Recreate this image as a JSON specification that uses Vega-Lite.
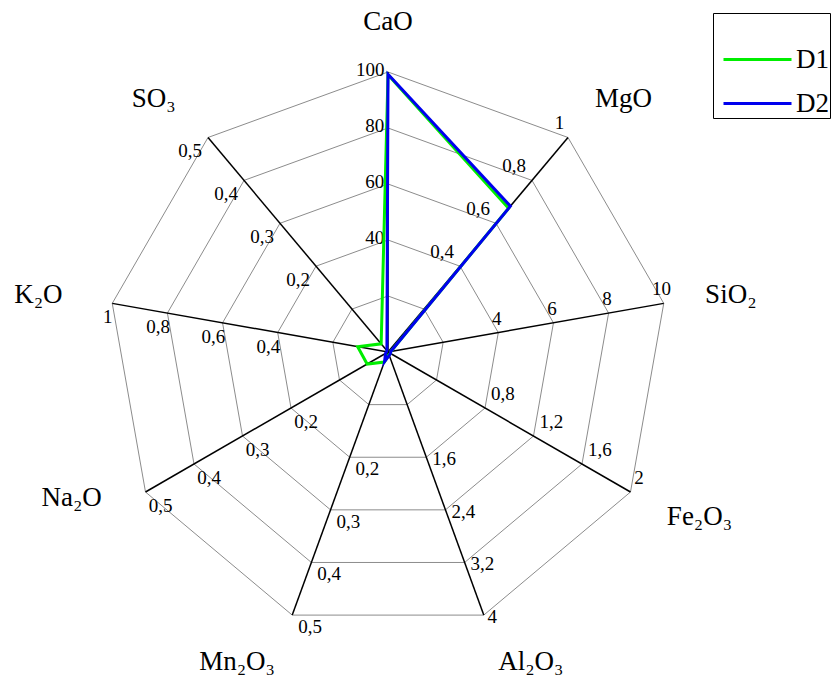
{
  "$schema": "https://vega.github.io/schema/vega-lite/v6.json",
  "width": 831,
  "height": 689,
  "padding": 0,
  "autosize": {"type": "none"},
  "background": "white",
  "config": {
    "view": {"stroke": null},
    "locale": {"number": {"decimal": ",", "thousands": ".", "grouping": [3], "currency": ["", "€"]}}
  },
  "datasets": {
    "axes": [
      {"oxide": "CaO", "idx": 0, "max": 100, "label": "CaO"},
      {"oxide": "MgO", "idx": 1, "max": 1, "label": "MgO"},
      {"oxide": "SiO2", "idx": 2, "max": 10, "label": "SiO₂"},
      {"oxide": "Fe2O3", "idx": 3, "max": 2, "label": "Fe₂O₃"},
      {"oxide": "Al2O3", "idx": 4, "max": 4, "label": "Al₂O₃"},
      {"oxide": "Mn2O3", "idx": 5, "max": 0.5, "label": "Mn₂O₃"},
      {"oxide": "Na2O", "idx": 6, "max": 0.5, "label": "Na₂O"},
      {"oxide": "K2O", "idx": 7, "max": 1, "label": "K₂O"},
      {"oxide": "SO3", "idx": 8, "max": 0.5, "label": "SO₃"}
    ],
    "ticks": [
      {"oxide": "CaO", "tick": 20}, {"oxide": "CaO", "tick": 40}, {"oxide": "CaO", "tick": 60}, {"oxide": "CaO", "tick": 80}, {"oxide": "CaO", "tick": 100},
      {"oxide": "MgO", "tick": 0.2}, {"oxide": "MgO", "tick": 0.4}, {"oxide": "MgO", "tick": 0.6}, {"oxide": "MgO", "tick": 0.8}, {"oxide": "MgO", "tick": 1},
      {"oxide": "SiO2", "tick": 2}, {"oxide": "SiO2", "tick": 4}, {"oxide": "SiO2", "tick": 6}, {"oxide": "SiO2", "tick": 8}, {"oxide": "SiO2", "tick": 10},
      {"oxide": "Fe2O3", "tick": 0.4}, {"oxide": "Fe2O3", "tick": 0.8}, {"oxide": "Fe2O3", "tick": 1.2}, {"oxide": "Fe2O3", "tick": 1.6}, {"oxide": "Fe2O3", "tick": 2},
      {"oxide": "Al2O3", "tick": 0.8}, {"oxide": "Al2O3", "tick": 1.6}, {"oxide": "Al2O3", "tick": 2.4}, {"oxide": "Al2O3", "tick": 3.2}, {"oxide": "Al2O3", "tick": 4},
      {"oxide": "Mn2O3", "tick": 0.1}, {"oxide": "Mn2O3", "tick": 0.2}, {"oxide": "Mn2O3", "tick": 0.3}, {"oxide": "Mn2O3", "tick": 0.4}, {"oxide": "Mn2O3", "tick": 0.5},
      {"oxide": "Na2O", "tick": 0.1}, {"oxide": "Na2O", "tick": 0.2}, {"oxide": "Na2O", "tick": 0.3}, {"oxide": "Na2O", "tick": 0.4}, {"oxide": "Na2O", "tick": 0.5},
      {"oxide": "K2O", "tick": 0.2}, {"oxide": "K2O", "tick": 0.4}, {"oxide": "K2O", "tick": 0.6}, {"oxide": "K2O", "tick": 0.8}, {"oxide": "K2O", "tick": 1},
      {"oxide": "SO3", "tick": 0.1}, {"oxide": "SO3", "tick": 0.2}, {"oxide": "SO3", "tick": 0.3}, {"oxide": "SO3", "tick": 0.4}, {"oxide": "SO3", "tick": 0.5}
    ],
    "values": [
      {"series": "D1", "oxide": "CaO", "value": 99},
      {"series": "D1", "oxide": "MgO", "value": 0.67},
      {"series": "D1", "oxide": "SiO2", "value": 0.1},
      {"series": "D1", "oxide": "Fe2O3", "value": 0.02},
      {"series": "D1", "oxide": "Al2O3", "value": 0.04},
      {"series": "D1", "oxide": "Mn2O3", "value": 0.019},
      {"series": "D1", "oxide": "Na2O", "value": 0.043},
      {"series": "D1", "oxide": "K2O", "value": 0.11},
      {"series": "D1", "oxide": "SO3", "value": 0.019},
      {"series": "D2", "oxide": "CaO", "value": 99.2},
      {"series": "D2", "oxide": "MgO", "value": 0.68},
      {"series": "D2", "oxide": "SiO2", "value": 0.1},
      {"series": "D2", "oxide": "Fe2O3", "value": 0.02},
      {"series": "D2", "oxide": "Al2O3", "value": 0.05},
      {"series": "D2", "oxide": "Mn2O3", "value": 0.018},
      {"series": "D2", "oxide": "Na2O", "value": 0.005},
      {"series": "D2", "oxide": "K2O", "value": 0.005},
      {"series": "D2", "oxide": "SO3", "value": 0.003}
    ]
  },
  "encoding": {
    "x": {"field": "x", "type": "quantitative", "scale": {"domain": [-1.3857, 1.5821], "nice": false, "zero": false}, "axis": null},
    "y": {"field": "y", "type": "quantitative", "scale": {"domain": [-1.2036, 1.2571], "nice": false, "zero": false}, "axis": null}
  },
  "layer": [
    {
      "data": {"name": "ticks"},
      "transform": [
        {"lookup": "oxide", "from": {"data": {"name": "axes"}, "key": "oxide", "fields": ["idx", "max"]}},
        {"calculate": "round(datum.tick / datum.max * 10) / 10", "as": "lev"},
        {"calculate": "(90 - datum.idx * 40) * PI / 180", "as": "a"},
        {"calculate": "datum.lev * cos(datum.a)", "as": "x"},
        {"calculate": "datum.lev * sin(datum.a)", "as": "y"}
      ],
      "mark": {"type": "line", "interpolate": "linear-closed", "color": "#8c8c8c", "strokeWidth": 1},
      "encoding": {
        "detail": {"field": "lev", "type": "nominal"},
        "order": {"field": "idx", "type": "quantitative"}
      }
    },
    {
      "data": {"name": "axes"},
      "transform": [
        {"calculate": "(90 - datum.idx * 40) * PI / 180", "as": "a"},
        {"calculate": "cos(datum.a)", "as": "x"},
        {"calculate": "sin(datum.a)", "as": "y"},
        {"calculate": "0", "as": "z"}
      ],
      "mark": {"type": "rule", "color": "black", "strokeWidth": 1.5},
      "encoding": {
        "x2": {"field": "z"},
        "y2": {"field": "z"}
      }
    },
    {
      "data": {"name": "ticks"},
      "transform": [
        {"lookup": "oxide", "from": {"data": {"name": "axes"}, "key": "oxide", "fields": ["idx", "max"]}},
        {"calculate": "round(datum.tick / datum.max * 10) / 10", "as": "lev"},
        {"filter": "datum.lev > 0.3"},
        {"calculate": "replace(format(datum.tick, '~g'), '.', ',')", "as": "txt"},
        {"calculate": "(90 - datum.idx * 40) * PI / 180", "as": "a"},
        {"calculate": "datum.a + 85 * PI / 180", "as": "d"},
        {"calculate": "datum.lev * cos(datum.a) + clamp(2 * cos(datum.d), -1, 1) * (length(datum.txt) * 4.6 + 4) / 280", "as": "x"},
        {"calculate": "datum.lev * sin(datum.a) + (datum.idx == 4 ? -2 : clamp(2 * sin(datum.d), -1, 1) * 14) / 280", "as": "y"}
      ],
      "mark": {"type": "text", "font": "Liberation Serif", "fontSize": 19, "color": "black", "align": "center", "baseline": "middle"},
      "encoding": {
        "text": {"field": "txt", "type": "nominal"}
      }
    },
    {
      "data": {"name": "axes"},
      "transform": [
        {"calculate": "(90 - datum.idx * 40) * PI / 180", "as": "a"},
        {"filter": "abs(cos(datum.a)) < 0.1"},
        {"calculate": "1.18 * cos(datum.a)", "as": "x"},
        {"calculate": "1.18 * sin(datum.a)", "as": "y"}
      ],
      "mark": {"type": "text", "font": "Liberation Serif", "fontSize": 27, "color": "black", "align": "center", "baseline": "middle"},
      "encoding": {"text": {"field": "label", "type": "nominal"}}
    },
    {
      "data": {"name": "axes"},
      "transform": [
        {"calculate": "(90 - datum.idx * 40) * PI / 180", "as": "a"},
        {"filter": "cos(datum.a) >= 0.1"},
        {"calculate": "1.15 * cos(datum.a)", "as": "x"},
        {"calculate": "1.18 * sin(datum.a)", "as": "y"}
      ],
      "mark": {"type": "text", "font": "Liberation Serif", "fontSize": 27, "color": "black", "align": "left", "baseline": "middle"},
      "encoding": {"text": {"field": "label", "type": "nominal"}}
    },
    {
      "data": {"name": "axes"},
      "transform": [
        {"calculate": "(90 - datum.idx * 40) * PI / 180", "as": "a"},
        {"filter": "cos(datum.a) <= -0.1"},
        {"calculate": "1.18 * cos(datum.a)", "as": "x"},
        {"calculate": "(datum.idx == 6 ? 1.04 : 1.18) * sin(datum.a)", "as": "y"}
      ],
      "mark": {"type": "text", "font": "Liberation Serif", "fontSize": 27, "color": "black", "align": "right", "baseline": "middle"},
      "encoding": {"text": {"field": "label", "type": "nominal"}}
    },
    {
      "data": {"name": "values"},
      "transform": [
        {"lookup": "oxide", "from": {"data": {"name": "axes"}, "key": "oxide", "fields": ["idx", "max"]}},
        {"calculate": "(90 - datum.idx * 40) * PI / 180", "as": "a"},
        {"calculate": "datum.value / datum.max * cos(datum.a)", "as": "x"},
        {"calculate": "datum.value / datum.max * sin(datum.a)", "as": "y"}
      ],
      "mark": {"type": "line", "interpolate": "linear-closed", "strokeWidth": 3},
      "encoding": {
        "order": {"field": "idx", "type": "quantitative"},
        "color": {
          "field": "series",
          "type": "nominal",
          "scale": {"domain": ["D1", "D2"], "range": ["#00ee00", "#0000ee"]},
          "legend": {
            "title": " ",
            "titleFontSize": 28,
            "titlePadding": 0,
            "orient": "none",
            "legendX": 713,
            "legendY": 13,
            "strokeColor": "black",
            "fillColor": "white",
            "padding": 1,
            "rowPadding": 13,
            "symbolType": "M-0.5,0H3.75",
            "symbolSize": 1024,
            "symbolStrokeWidth": 3,
            "labelFont": "Liberation Serif",
            "labelFontSize": 27,
            "labelColor": "black",
            "labelLimit": 0,
            "labelOffset": 47
          }
        }
      }
    }
  ]
}
